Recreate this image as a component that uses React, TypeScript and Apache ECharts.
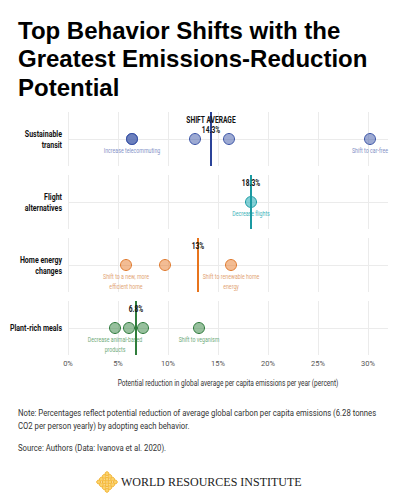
import React, { useEffect, useRef } from "react";
import * as echarts from "echarts";

const categories = ["Sustainable\ntransit", "Flight\nalternatives", "Home energy\nchanges", "Plant-rich meals"];
const transitValues = [6.4, 6.4, 12.7, 16.1, 30.2];
const transitLabels = ["Increase telecommuting", "", "", "", "Shift to car-free"];
const flightValues = [18.3];
const flightLabels = ["Decrease flights"];
const homeValues = [5.8, 9.7, 16.3];
const homeLabels = ["Shift to a new, more\nefficient home", "", "Shift to renewable home\nenergy"];
const mealValues = [4.7, 6.1, 7.5, 13.1];
const mealLabels = ["Decrease animal-based\nproducts", "", "", "Shift to veganism"];
const averages = [14.3, 18.3, 13, 6.8];
const averageLabels = ["SHIFT AVERAGE\n14.3%", "18.3%", "13%", "6.8%"];
const xMin = 0;
const xMax = 32;
const xInterval = 5;

const rowValues = [transitValues, flightValues, homeValues, mealValues];
const rowLabels = [transitLabels, flightLabels, homeLabels, mealLabels];
const palette = [
  { fill: "rgba(60,85,167,0.5)", border: "#3c55a7", text: "#8391c6", line: "#2b4399" },
  { fill: "rgba(30,170,180,0.55)", border: "#1a9ba3", text: "#40b3ba", line: "#1a9aa2" },
  { fill: "rgba(232,122,40,0.5)", border: "#e07a2e", text: "#e2a373", line: "#e8741c" },
  { fill: "rgba(47,130,60,0.5)", border: "#2e7a3c", text: "#6faa7a", line: "#2f7d3b" },
];

const SANS = "Roboto, sans-serif";
const SQ = 0.74;

export default function App() {
  const ref = useRef<HTMLDivElement>(null);
  useEffect(() => {
    document.body.style.margin = "0";
    const chart = echarts.init(ref.current!, null, { renderer: "svg" });
    const grids: any[] = [];
    const xAxes: any[] = [];
    const yAxes: any[] = [];
    const series: any[] = [];
    const rowTexts: any[] = [];
    categories.forEach((cat, i) => {
      const last = i === categories.length - 1;
      const top = 112 + i * 63;
      grids.push({ left: 68, right: 12, top, height: 54, containLabel: false, outerBoundsMode: "none" });
      rowTexts.push({
        type: "text",
        x: 62,
        y: top + 27,
        scaleX: SQ,
        style: {
          text: cat,
          align: "right",
          verticalAlign: "middle",
          fontFamily: SANS,
          fontWeight: "bold",
          fontSize: 9.5,
          lineHeight: 10.5,
          fill: "#111",
        },
      });
      xAxes.push({
        type: "value",
        gridIndex: i,
        min: xMin,
        max: xMax,
        interval: xInterval,
        axisLine: { show: false },
        axisTick: { show: false },
        splitLine: { show: true, showMaxLine: false, lineStyle: { color: "#ebebeb", width: 1 } },
        axisLabel: {
          show: last,
          showMaxLabel: false,
          margin: 4,
          color: "#555",
          fontSize: 7.5,
          fontFamily: SANS,
          formatter: (v: number) => `${v}%`,
        },
      });
      yAxes.push({
        type: "value",
        gridIndex: i,
        min: -1,
        max: 1,
        interval: 1,
        axisLine: { show: false },
        axisTick: { show: false },
        axisLabel: { show: false },
        splitLine: { show: true, showMinLine: false, showMaxLine: false, lineStyle: { color: "#ebebeb", width: 1 } },
      });
      const c = palette[i];
      series.push({
        type: "scatter",
        xAxisIndex: i,
        yAxisIndex: i,
        z: 2,
        symbolSize: 11,
        itemStyle: { color: c.fill, borderColor: c.border, borderWidth: 1, opacity: 1 },
        data: rowValues[i].map((v) => [v, 0]),
      });
      series.push({
        type: "custom",
        xAxisIndex: i,
        yAxisIndex: i,
        z: 3,
        silent: true,
        data: rowValues[i].map((v) => [v, 0]),
        renderItem: (params: any, api: any) => {
          const p = api.coord([api.value(0), api.value(1)]);
          const t = rowLabels[i][params.dataIndex];
          if (!t) return null;
          return {
            type: "text",
            x: p[0],
            y: p[1] + 6.5,
            scaleX: 0.7,
            style: {
              text: t,
              align: "center",
              verticalAlign: "top",
              fontFamily: SANS,
              fontSize: 7.5,
              lineHeight: 10,
              fill: c.text,
            },
          };
        },
      });
      series.push({
        type: "custom",
        xAxisIndex: i,
        yAxisIndex: i,
        z: 5,
        silent: true,
        data: [[averages[i], 0.7]],
        renderItem: (params: any, api: any) => {
          const p = api.coord([api.value(0), api.value(1)]);
          return {
            type: "text",
            x: p[0],
            y: p[1] - 5,
            scaleX: SQ,
            style: {
              text: averageLabels[i],
              align: "center",
              verticalAlign: "top",
              fontFamily: SANS,
              fontWeight: "bold",
              fontSize: 9,
              lineHeight: 10,
              fill: "#111",
            },
          };
        },
        markLine: {
          silent: true,
          symbol: "none",
          z: 4,
          label: { show: false },
          lineStyle: { color: c.line, width: 2, type: "solid" },
          data: [{ xAxis: averages[i] }],
        },
      });
    });

    const logoDots: any[] = [];
    for (let a = 0; a < 4; a++) {
      for (let b = 0; b < 4; b++) {
        logoDots.push({
          type: "circle",
          shape: { cx: 107 + (a - b) * 2.8, cy: 482 + (a + b - 3) * 2.8, r: 1.9 },
          style: { fill: "#fbd36b", stroke: "#f0a81c", lineWidth: 0.8 },
        });
      }
    }

    chart.setOption({
      animation: false,
      title: [
        {
          text: "Top Behavior Shifts with the\nGreatest Emissions-Reduction\nPotential",
          left: 18,
          top: 16,
          padding: 0,
          textStyle: { fontFamily: "'Liberation Sans', Arial, sans-serif", fontWeight: "bold", fontSize: 24, lineHeight: 28.5, color: "#000" },
        },
      ],
      grid: grids,
      xAxis: xAxes,
      yAxis: yAxes,
      series,
      graphic: [
        ...rowTexts,
        {
          type: "text",
          x: 228,
          y: 383,
          scaleX: 0.77,
          style: {
            text: "Potential reduction in global average per capita emissions per year (percent)",
            align: "center",
            verticalAlign: "middle",
            fontFamily: SANS,
            fontSize: 8.5,
            fill: "#333",
          },
        },
        {
          type: "text",
          x: 18,
          y: 406,
          scaleX: 0.86,
          style: {
            text: "Note: Percentages reflect potential reduction of average global carbon per capita emissions (6.28 tonnes\nCO2 per person yearly) by adopting each behavior.",
            align: "left",
            verticalAlign: "top",
            fontFamily: SANS,
            fontSize: 9,
            lineHeight: 13,
            fill: "#333",
          },
        },
        {
          type: "text",
          x: 18,
          y: 441,
          scaleX: 0.86,
          style: {
            text: "Source: Authors (Data: Ivanova et al. 2020).",
            align: "left",
            verticalAlign: "top",
            fontFamily: SANS,
            fontSize: 9,
            lineHeight: 13,
            fill: "#333",
          },
        },
        ...logoDots,
        {
          type: "text",
          x: 121,
          y: 482,
          style: {
            text: "WORLD RESOURCES INSTITUTE",
            fontFamily: "'Liberation Serif', 'DejaVu Serif', serif",
            fontSize: 12,
            fill: "#222",
            verticalAlign: "middle",
            align: "left",
          },
        },
      ],
    });
    return () => chart.dispose();
  }, []);
  return <div ref={ref} style={{ width: 400, height: 500 }} />;
}
